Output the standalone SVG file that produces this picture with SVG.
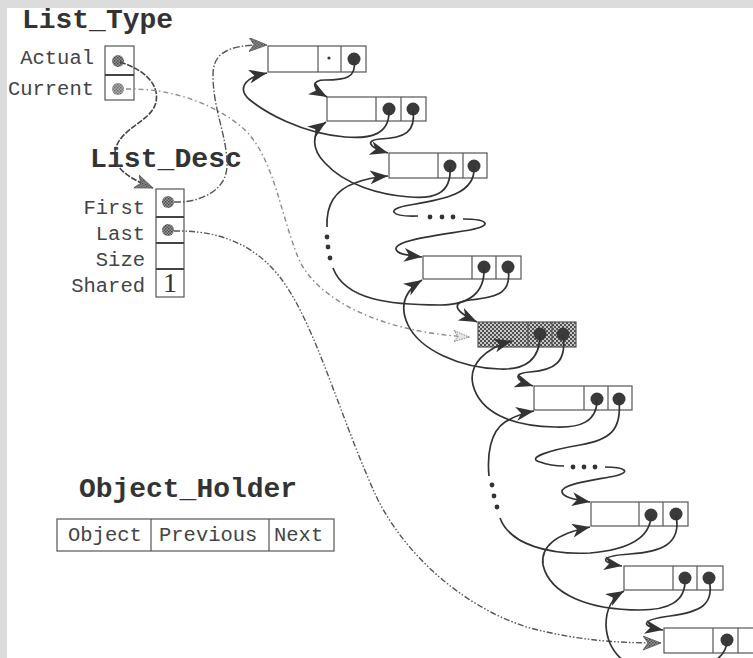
<svg xmlns="http://www.w3.org/2000/svg" width="753" height="658" viewBox="0 0 753 658">
  <defs>
    <style>
      .title{font-family:"Liberation Mono","Courier New",monospace;font-weight:bold;font-size:28px;fill:#333}
      .lbl{font-family:"Liberation Mono","Courier New",monospace;font-size:20.5px;fill:#444}
      .box{fill:#fff;stroke:#555;stroke-width:1.2}
      .sep{stroke:#555;stroke-width:1.2}
      .sepd{stroke:#444;stroke-width:2}
      .ptr{fill:#3a3a3a}
      .ref{fill:url(#stip)}
      .link{fill:none;stroke:#333;stroke-width:1.7}
      .next{marker-end:url(#ah)}
      .el{fill:#333}
      .actual{fill:none;stroke:#444;stroke-width:1.6;stroke-dasharray:6 1.5;marker-end:url(#ahs)}
      .first{fill:none;stroke:#555;stroke-width:1.4;stroke-dasharray:7 2 1.5 2;marker-end:url(#ahs)}
      .last{fill:none;stroke:#555;stroke-width:1.4;stroke-dasharray:6 2 1.5 2 1.5 2;marker-end:url(#ahs)}
      .current{fill:none;stroke:#8a8a8a;stroke-width:1.4;stroke-dasharray:5 3 1.5 3;marker-end:url(#aho)}
    </style>
    <pattern id="stip" width="3" height="3" patternUnits="userSpaceOnUse">
      <rect width="3" height="3" fill="#9a9a9a"/>
      <rect width="1.5" height="1.5" fill="#444"/>
      <rect x="1.5" y="1.5" width="1.5" height="1.5" fill="#555"/>
    </pattern>
    <pattern id="shade" width="4" height="4" patternUnits="userSpaceOnUse">
      <rect width="4" height="4" fill="#c8c8c8"/>
      <rect width="2" height="2" fill="#505050"/>
      <rect x="2" y="2" width="2" height="2" fill="#505050"/>
    </pattern>
    <marker id="ah" markerUnits="userSpaceOnUse" markerWidth="20" markerHeight="15" refX="18" refY="7" orient="auto">
      <path d="M0,0 L18,7 L0,14 L5,7 z" fill="#333"/>
    </marker>
    <marker id="ahs" markerUnits="userSpaceOnUse" markerWidth="20" markerHeight="15" refX="18" refY="7" orient="auto">
      <path d="M0,0 L18,7 L0,14 L5,7 z" fill="url(#stip)" stroke="#555" stroke-width="0.8"/>
    </marker>
    <marker id="aho" markerUnits="userSpaceOnUse" markerWidth="18" markerHeight="14" refX="16" refY="6.5" orient="auto">
      <path d="M1,1 L16,6.5 L1,12 L5,6.5 z" fill="#e6e6e6" stroke="#888" stroke-width="1" stroke-dasharray="1.5 1"/>
    </marker>
  </defs>

  <!-- page -->
  <rect width="753" height="658" fill="#dcdcdc"/>
  <rect x="7" y="8" width="746" height="650" fill="#fff"/>

  <!-- List_Type record -->
  <g id="list_type">
    <text class="title" x="22" y="28" textLength="151" lengthAdjust="spacingAndGlyphs">List_Type</text>
    <text class="lbl" x="94" y="64" text-anchor="end">Actual</text>
    <text class="lbl" x="94" y="95" text-anchor="end">Current</text>
    <rect class="box" x="105" y="46" width="29" height="54"/>
    <line class="sepd" x1="105" y1="75" x2="134" y2="75"/>
    <circle class="ref" cx="118" cy="61" r="6"/>
    <circle class="ref" cx="118" cy="89" r="6" opacity="0.8"/>
  </g>

  <!-- List_Desc record -->
  <g id="list_desc">
    <text class="title" x="90" y="167" textLength="152" lengthAdjust="spacingAndGlyphs">List_Desc</text>
    <text class="lbl" x="145" y="214" text-anchor="end">First</text>
    <text class="lbl" x="145" y="240" text-anchor="end">Last</text>
    <text class="lbl" x="145" y="266" text-anchor="end">Size</text>
    <text class="lbl" x="145" y="292" text-anchor="end">Shared</text>
    <rect class="box" x="156" y="189" width="28" height="108"/>
    <line class="sepd" x1="156" y1="217" x2="184" y2="217"/>
    <line class="sepd" x1="156" y1="243" x2="184" y2="243"/>
    <line class="sepd" x1="156" y1="269" x2="184" y2="269"/>
    <circle class="ref" cx="168" cy="202" r="6"/>
    <circle class="ref" cx="168" cy="230" r="6"/>
    <text x="170" y="292" text-anchor="middle" font-family="'Liberation Serif','Times New Roman',serif" font-size="28" fill="#333">1</text>
  </g>

  <!-- Object_Holder legend -->
  <g id="object_holder">
    <text class="title" x="79" y="497" textLength="218" lengthAdjust="spacingAndGlyphs">Object_Holder</text>
    <rect class="box" x="57" y="519" width="277" height="32"/>
    <line class="sep" x1="151" y1="519" x2="151" y2="551"/>
    <line class="sep" x1="269" y1="519" x2="269" y2="551"/>
    <text class="lbl" x="68" y="541">Object</text>
    <text class="lbl" x="159" y="541">Previous</text>
    <text class="lbl" x="274" y="541">Next</text>
  </g>

  <!-- holders: object | previous | next -->
  <g id="holder1">
    <rect class="box" x="268" y="46" width="98" height="26"/>
    <line class="sep" x1="318" y1="46" x2="318" y2="72"/>
    <line class="sep" x1="341" y1="46" x2="341" y2="72"/>
    <circle class="ptr" cx="329" cy="58" r="1.6"/>
    <circle class="ptr" cx="354" cy="59" r="6.5"/>
  </g>
  <g id="holder2">
    <rect class="box" x="327" y="97" width="99" height="24"/>
    <line class="sep" x1="376" y1="97" x2="376" y2="121"/>
    <line class="sep" x1="401" y1="97" x2="401" y2="121"/>
    <circle class="ptr" cx="389" cy="109" r="6.5"/>
    <circle class="ptr" cx="413" cy="109" r="6.5"/>
  </g>
  <g id="holder3">
    <rect class="box" x="389" y="153" width="98" height="25"/>
    <line class="sep" x1="438" y1="153" x2="438" y2="178"/>
    <line class="sep" x1="463" y1="153" x2="463" y2="178"/>
    <circle class="ptr" cx="450" cy="166" r="6.5"/>
    <circle class="ptr" cx="474" cy="166" r="6.5"/>
  </g>
  <g id="holder4">
    <rect class="box" x="423" y="256" width="98" height="23"/>
    <line class="sep" x1="472" y1="256" x2="472" y2="279"/>
    <line class="sep" x1="496" y1="256" x2="496" y2="279"/>
    <circle class="ptr" cx="484" cy="267" r="6.5"/>
    <circle class="ptr" cx="508" cy="267" r="6.5"/>
  </g>
  <g id="holder5">
    <rect x="478" y="322" width="98" height="25" fill="url(#shade)" stroke="#555" stroke-width="1.2"/>
    <line class="sep" x1="528" y1="322" x2="528" y2="347"/>
    <line class="sep" x1="552" y1="322" x2="552" y2="347"/>
    <circle class="ptr" cx="540" cy="334" r="6.5"/>
    <circle class="ptr" cx="563" cy="334" r="6.5"/>
  </g>
  <g id="holder6">
    <rect class="box" x="534" y="386" width="98" height="24"/>
    <line class="sep" x1="584" y1="386" x2="584" y2="410"/>
    <line class="sep" x1="608" y1="386" x2="608" y2="410"/>
    <circle class="ptr" cx="597" cy="399" r="6.5"/>
    <circle class="ptr" cx="619" cy="399" r="6.5"/>
  </g>
  <g id="holder7">
    <rect class="box" x="591" y="502" width="97" height="24"/>
    <line class="sep" x1="639" y1="502" x2="639" y2="526"/>
    <line class="sep" x1="663" y1="502" x2="663" y2="526"/>
    <circle class="ptr" cx="651" cy="515" r="6.5"/>
    <circle class="ptr" cx="676" cy="514" r="6.5"/>
  </g>
  <g id="holder8">
    <rect class="box" x="624" y="566" width="99" height="24"/>
    <line class="sep" x1="673" y1="566" x2="673" y2="590"/>
    <line class="sep" x1="697" y1="566" x2="697" y2="590"/>
    <circle class="ptr" cx="685" cy="578" r="6.5"/>
    <circle class="ptr" cx="709" cy="578" r="6.5"/>
  </g>
  <g id="holder9">
    <rect class="box" x="664" y="628" width="99" height="25"/>
    <line class="sep" x1="713" y1="628" x2="713" y2="653"/>
    <line class="sep" x1="738" y1="628" x2="738" y2="653"/>
    <circle class="ptr" cx="727" cy="640" r="6.5"/>
  </g>

  <g id="connectors">
    <!-- List_Type / List_Desc access pointers -->
    <path class="actual" d="M120,62 C140,68 160,82 156,102 C152,122 118,128 115,152 C113,168 128,178 153,188"/>
    <path class="current" d="M126,89 C170,88 215,103 245,130 C275,160 280,215 300,262 C320,300 380,332 469,337"/>
    <path class="first" d="M174,202 C198,203 227,192 227,165 C227,135 213,110 213,75 C213,55 225,44 267,45"/>
    <path class="last" d="M174,231 C220,230 262,245 290,292 C320,340 345,430 378,500 C410,562 470,610 530,628 C580,641 620,643 661,643"/>

    <!-- next pointers -->
    <path class="link next" d="M354,60 C357,78 345,80 325,80 C311,80 311,88 327,97"/>
    <path class="link next" d="M413,110 C416,132 405,138 380,139 C366,140 367,147 388,153"/>
    <path class="link" d="M474,167 C476,195 440,200 410,205 C385,209 390,217 418,216"/>
    <circle class="el" cx="430" cy="217" r="2.4"/>
    <circle class="el" cx="442" cy="217" r="2.4"/>
    <circle class="el" cx="453" cy="217" r="2.4"/>
    <path class="link next" d="M463,219 C490,219 492,226 470,230 C440,235 395,240 396,249 C397,254 405,255 422,257"/>
    <path class="link next" d="M508,268 C512,292 500,297 470,300 C452,302 452,310 477,322"/>
    <path class="link next" d="M563,335 C567,362 555,370 530,372 C513,373 514,380 533,386"/>
    <path class="link" d="M619,400 C622,430 610,440 580,445 C550,450 525,458 540,462 C548,465 556,466 564,466"/>
    <circle class="el" cx="573" cy="467" r="2.4"/>
    <circle class="el" cx="584" cy="467" r="2.4"/>
    <circle class="el" cx="595" cy="467" r="2.4"/>
    <path class="link next" d="M605,467 C625,467 632,472 615,476 C595,480 560,484 562,492 C563,497 572,499 590,502"/>
    <path class="link next" d="M676,515 C682,545 660,552 630,554 C600,556 598,562 622,566"/>
    <path class="link next" d="M709,579 C715,605 700,612 670,616 C640,620 640,626 663,630"/>

    <!-- previous pointers -->
    <path class="link next" d="M389,110 C390,135 370,139 345,137 C300,133 265,112 250,100 C238,90 242,78 267,73"/>
    <path class="link next" d="M450,167 C452,195 432,199 410,197 C380,195 345,185 325,163 C312,150 310,133 326,122"/>
    <path class="link next" d="M327,227 C326,205 335,190 355,183 C365,179 375,177 388,176"/>
    <circle class="el" cx="327" cy="237" r="2.4"/>
    <circle class="el" cx="328" cy="247" r="2.4"/>
    <circle class="el" cx="330" cy="258" r="2.4"/>
    <path class="link" d="M484,268 C485,292 470,305 440,305 C390,305 345,300 333,268"/>
    <path class="link next" d="M540,335 C540,360 525,370 500,369 C460,368 420,350 408,325 C400,308 403,292 422,280"/>
    <path class="link next" d="M597,400 C597,422 580,428 555,427 C510,426 480,412 473,385 C468,365 485,348 512,341"/>
    <path class="link next" d="M489,476 C487,455 490,432 505,422 C515,416 522,413 534,411"/>
    <circle class="el" cx="492" cy="485" r="2.4"/>
    <circle class="el" cx="494" cy="496" r="2.4"/>
    <circle class="el" cx="497" cy="507" r="2.4"/>
    <path class="link" d="M651,516 C650,540 625,550 590,553 C550,555 510,545 500,518"/>
    <path class="link next" d="M685,579 C686,602 668,610 640,610 C590,610 550,595 543,565 C540,545 560,533 590,527"/>
    <path class="link next" d="M727,641 C726,662 700,672 660,672 C625,672 607,650 606,625 C606,608 612,598 624,591"/>
  </g>
</svg>
